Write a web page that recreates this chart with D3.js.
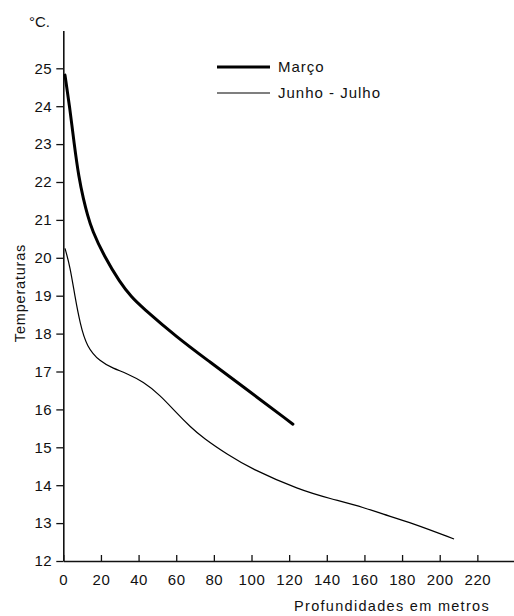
<!DOCTYPE html>
<html>
<head>
<meta charset="utf-8">
<script src="https://cdn.jsdelivr.net/npm/d3@7"></script>
<style>
  html, body { margin: 0; padding: 0; background: #fff; }
  svg { display: block; }
  text { font-family: "Liberation Sans", Arial, sans-serif; fill: #111; }
</style>
</head>
<body>
<div id="chart"></div>
<script>
// Temperature profiles by depth (m → °C)
const marcoDepth = [0.9, 3.6, 5.7, 8.3, 10.7, 12.9, 15.3, 21.6, 30.1, 36.5, 41.3, 60.4, 78.0, 94.4, 122.0];
const marcoTemp  = [24.82, 23.9, 23.03, 22.1, 21.55, 21.12, 20.73, 20.05, 19.35, 18.95, 18.72, 17.9, 17.25, 16.64, 15.61];

const junhoDepth = [0.9, 3.6, 6.2, 8.9, 12.4, 19.5, 26.6, 33.7, 42.5, 51.4, 60.3, 67.3, 74.4, 87.5, 99.2, 125.8, 141.7, 161.2, 168.3, 186, 207.6];
const junhoTemp  = [20.25, 19.77, 18.97, 18.27, 17.65, 17.26, 17.08, 16.95, 16.73, 16.38, 15.9, 15.55, 15.24, 14.8, 14.45, 13.87, 13.65, 13.39, 13.26, 12.99, 12.58];

const seriesNames = ["Março", "Junho - Julho"];
const xTicks = [0, 20, 40, 60, 80, 100, 120, 140, 160, 180, 200, 220];
const yTicks = [12, 13, 14, 15, 16, 17, 18, 19, 20, 21, 22, 23, 24, 25];

const W = 514, H = 616;
const svg = d3.select("#chart").append("svg").attr("width", W).attr("height", H);

const x = d3.scaleLinear().domain([0, 240]).range([63.3, 515]);
const y = d3.scaleLinear().domain([12, 26]).range([561, 30.4]);

// Axes
const xAxis = d3.axisBottom(x).tickValues(xTicks).tickSize(-6).tickSizeOuter(0).tickPadding(13);
const gx = svg.append("g").attr("transform", `translate(0,${y(12)})`).call(xAxis);
gx.select(".domain").attr("stroke", "#111").attr("stroke-width", 1.6);
gx.selectAll(".tick line").attr("stroke", "#111").attr("stroke-width", 1.3);
gx.selectAll(".tick text").attr("font-size", 15).attr("letter-spacing", 0.6)
  .attr("font-family", "Liberation Sans, Arial, sans-serif").attr("fill", "#111");

const yAxis = d3.axisLeft(y).tickValues(yTicks).tickSize(7).tickSizeOuter(0).tickPadding(4);
const gy = svg.append("g").attr("transform", `translate(${x(0)},0)`).call(yAxis);
gy.select(".domain").attr("stroke", "#111").attr("stroke-width", 1.6);
gy.selectAll(".tick line").attr("stroke", "#111").attr("stroke-width", 1.3);
gy.selectAll(".tick text").attr("font-size", 15).attr("letter-spacing", 0.6)
  .attr("font-family", "Liberation Sans, Arial, sans-serif").attr("fill", "#111");

// Axis titles
svg.append("text").attr("x", 490).attr("y", 611).attr("text-anchor", "end")
  .attr("font-size", 14.5).attr("letter-spacing", 1.3).text("Profundidades em metros");
svg.append("text").attr("transform", `translate(25,293) rotate(-90)`).attr("text-anchor", "middle")
  .attr("font-size", 14.5).attr("letter-spacing", 0.8).text("Temperaturas");
svg.append("text").attr("x", 29).attr("y", 27).attr("font-size", 15).text("°C.");

// Curves (smoothed B-spline through the sampled profile points)
const line = d3.line().x(d => x(d[0])).y(d => y(d[1])).curve(d3.curveBasis);
const marco = marcoDepth.map((d, i) => [d, marcoTemp[i]]);
const junho = junhoDepth.map((d, i) => [d, junhoTemp[i]]);

svg.append("path").datum(marco).attr("d", line).attr("fill", "none")
  .attr("stroke", "#000").attr("stroke-width", 3).attr("stroke-linecap", "round");
svg.append("path").datum(junho).attr("d", line).attr("fill", "none")
  .attr("stroke", "#000").attr("stroke-width", 1.2);

// Legend
const legend = [{ name: seriesNames[0], w: 3, y: 67 }, { name: seriesNames[1], w: 1.2, y: 93 }];
legend.forEach(l => {
  svg.append("line").attr("x1", 217).attr("x2", 270).attr("y1", l.y).attr("y2", l.y)
    .attr("stroke", "#000").attr("stroke-width", l.w);
  svg.append("text").attr("x", 278).attr("y", l.y + 5).attr("font-size", 15)
    .attr("letter-spacing", 1).text(l.name);
});
</script>
</body>
</html>
